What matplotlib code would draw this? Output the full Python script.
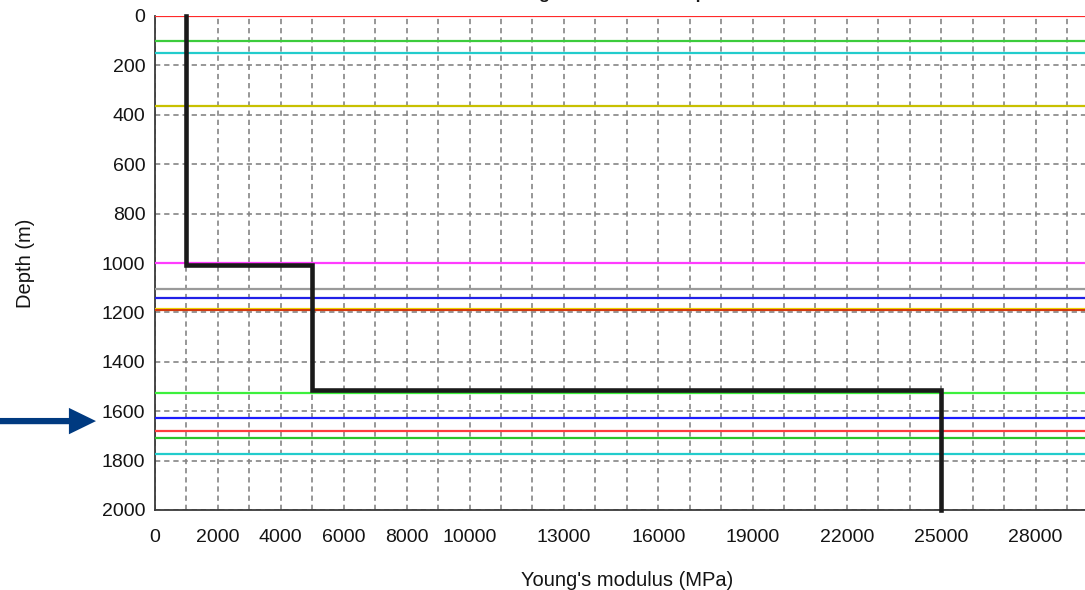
import matplotlib
matplotlib.use("Agg")
import matplotlib.pyplot as plt
from matplotlib.ticker import MultipleLocator, FixedLocator
from matplotlib.transforms import offset_copy

plt.rcParams["font.family"] = ["Liberation Sans", "DejaVu Sans"]
plt.rcParams["lines.scale_dashes"] = False

# Young's modulus profile (step log): modulus per layer and layer boundaries
modulus_mpa = [1000, 5000, 25000]
layer_top_m = [0, 1010, 1515]
layer_base_m = [1010, 1515, 2000]

# Formation tops drawn as horizontal markers
top_depths_m = [0, 100, 150, 365, 1000, 1105, 1143, 1186, 1190,
                1525, 1629, 1680, 1708, 1773]
top_colors = ["#ff2a2a", "#3ccc3c", "#22cccc", "#c8c000", "#ff3cff",
              "#9a9a9a", "#2020e6", "#f2e200", "#d23a10",
              "#3cf03c", "#1c1cff", "#ff3c3c", "#2cc42c", "#22cccc"]

# Highlighted depth
marked_depth_m = 1640

xtick_values = [0, 2000, 4000, 6000, 8000, 10000, 13000, 16000,
                19000, 22000, 25000, 28000]
ytick_values = list(range(0, 2001, 200))

W, H = 1085, 590
fig = plt.figure(figsize=(W / 100, H / 100), dpi=100)
ax = fig.add_axes([155 / W, 80 / H, 943.5 / W, 494 / H])

ax.set_xlim(0, 30000)
ax.set_ylim(2000, 0)

# grid: every 1000 MPa vertically, every 200 m horizontally
ax.xaxis.set_major_locator(FixedLocator(xtick_values))
ax.xaxis.set_minor_locator(MultipleLocator(1000))
ax.yaxis.set_major_locator(FixedLocator(ytick_values))
grid_kw = dict(color="#858585", linewidth=1.2, linestyle=(0, (3.8, 2.8)))
ax.grid(True, which="both", axis="x", **grid_kw)
ax.grid(True, which="major", axis="y", **grid_kw)
ax.set_axisbelow(True)

for d, c in zip(top_depths_m, top_colors):
    ax.axhline(d, color=c, linewidth=1.6, zorder=3)

# stepped modulus curve
xs, ys = [], []
for e, t, b in zip(modulus_mpa, layer_top_m, layer_base_m):
    xs += [e, e]
    ys += [t, b]
ax.plot(xs, ys, color="#1a1a1a", linewidth=3.3, solid_joinstyle="miter",
        zorder=5, clip_on=False)

ax.set_xticklabels([str(v) for v in xtick_values])
ax.tick_params(axis="both", which="both", length=0, labelsize=14,
               labelcolor="#141414")
ax.tick_params(axis="x", pad=14)
ax.tick_params(axis="y", pad=7)

for s in ("top", "right"):
    ax.spines[s].set_visible(False)
for s in ("left", "bottom"):
    ax.spines[s].set_color("#3a3a3a")
    ax.spines[s].set_linewidth(1.3)

ax.set_xlabel("Young's modulus (MPa)", fontsize=14.5, color="#141414",
              labelpad=18)
ax.set_ylabel("Depth (m)", fontsize=14.5, color="#141414", labelpad=48)

fig.text(0.562, 1.002, "Young's modulus vs. depth", fontsize=12.5,
         fontweight="bold", ha="center", va="baseline", color="#1a1a1a")

# arrow pointing at the highlighted depth
tip = offset_copy(ax.transData, fig=fig, x=-59, y=0, units="dots")
ax.annotate("", xy=(0, marked_depth_m), xycoords=tip,
            xytext=(-100, 0), textcoords="offset pixels",
            arrowprops=dict(arrowstyle="simple,head_length=19.5,head_width=19,tail_width=4.5",
                            mutation_scale=1, color="#003a80", lw=0,
                            shrinkA=0, shrinkB=0),
            annotation_clip=False)

fig.savefig("out.png", dpi=100)
